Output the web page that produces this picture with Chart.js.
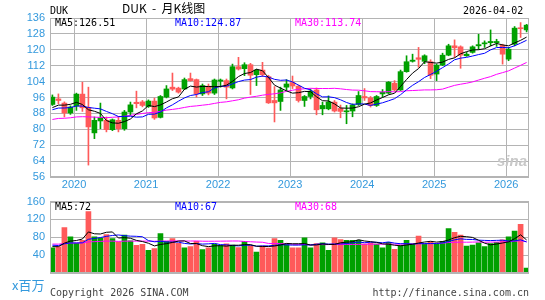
<!DOCTYPE html>
<html><head><meta charset="utf-8">
<script src="https://cdn.jsdelivr.net/npm/chart.js@4.4.1/dist/chart.umd.min.js"></script>
<style>
html,body{margin:0;padding:0;background:#fff;width:545px;height:300px;overflow:hidden;position:relative}
canvas{position:absolute;left:0}
#main{top:0}
#vol{top:190px}
.t{position:absolute;white-space:nowrap;font-family:"DejaVu Sans Mono","Liberation Mono",monospace;font-size:10px;line-height:12px;color:#000}
</style></head><body>
<canvas id="main" width="545" height="190" style="width:545px;height:190px"></canvas>
<canvas id="vol" width="545" height="110" style="width:545px;height:110px"></canvas>
<div class="t" style="left:50px;top:5px">DUK</div>
<div class="t" style="left:122px;top:1px;font-family:'Noto Sans CJK SC',sans-serif;font-size:12px;line-height:14px">DUK&nbsp;&nbsp;-&nbsp;&nbsp;月K线图</div>
<div class="t" style="left:463px;top:5px">2026-04-02</div>
<div class="t" style="left:55px;top:17px">MA5:126.51</div>
<div class="t" style="left:175px;top:17px;color:#0000ff">MA10:124.87</div>
<div class="t" style="left:295px;top:17px;color:#ff00ff">MA30:113.74</div>
<div class="t" style="left:55px;top:201px">MA5:72</div>
<div class="t" style="left:175px;top:201px;color:#0000ff">MA10:67</div>
<div class="t" style="left:295px;top:201px;color:#ff00ff">MA30:68</div>
<div class="t" style="left:12px;top:277px;font-family:'Noto Sans CJK SC',sans-serif;font-size:13px;line-height:16px;color:#3399dd">x百万</div>
<div class="t" style="left:50px;top:287px;color:#444">Copyright 2026 SINA.COM</div>
<div class="t" style="right:16px;top:287px;color:#444">http://finance.sina.com.cn</div>
<div class="t" style="left:497px;top:153px;font-family:'Liberation Sans',sans-serif;font-size:15px;font-weight:bold;font-style:italic;color:#c8c8c8;line-height:16px">sina</div>
<script>
// ---- data (monthly, 2019-09 .. 2026-04) ----
const months = ['2019-09','2019-10','2019-11','2019-12',
 '2020-01','2020-02','2020-03','2020-04','2020-05','2020-06','2020-07','2020-08','2020-09','2020-10','2020-11','2020-12',
 '2021-01','2021-02','2021-03','2021-04','2021-05','2021-06','2021-07','2021-08','2021-09','2021-10','2021-11','2021-12',
 '2022-01','2022-02','2022-03','2022-04','2022-05','2022-06','2022-07','2022-08','2022-09','2022-10','2022-11','2022-12',
 '2023-01','2023-02','2023-03','2023-04','2023-05','2023-06','2023-07','2023-08','2023-09','2023-10','2023-11','2023-12',
 '2024-01','2024-02','2024-03','2024-04','2024-05','2024-06','2024-07','2024-08','2024-09','2024-10','2024-11','2024-12',
 '2025-01','2025-02','2025-03','2025-04','2025-05','2025-06','2025-07','2025-08','2025-09','2025-10','2025-11','2025-12',
 '2026-01','2026-02','2026-03','2026-04'];
const opens = [92.5,95.3,93.2,88.2,91.7,97.7,91.0,78.2,84.2,84.5,
 79.8,84.5,80.3,88.7,93.6,93.8,91.5,94.2,86.0,96.2,
 101.2,100.7,100.3,105.5,105.0,97.8,101.7,98.2,104.2,104.5,
 100.8,111.5,110.5,112.5,107.5,109.8,106.5,94.5,94.0,101.2,
 103.5,101.7,94.5,96.5,99.8,90.3,90.3,93.7,90.5,88.8,
 89.2,92.5,96.5,95.8,92.0,97.8,98.2,103.2,99.8,109.0,
 114.2,116.0,114.2,114.0,107.8,112.3,117.3,122.0,121.5,117.0,
 118.7,122.0,123.0,123.6,123.6,122.3,115.3,122.8,131.0,130.0];
const highs = [97.3,97.8,93.8,91.8,98.2,103.7,101.2,86.2,93.2,86.2,
 85.2,86.5,89.5,93.7,99.2,94.5,94.8,95.7,97.0,102.0,
 108.3,101.2,105.8,108.3,105.3,102.8,102.8,105.3,105.3,105.3,
 112.8,116.2,113.5,113.2,110.2,113.7,107.2,101.5,101.2,105.0,
 106.8,102.2,97.0,100.3,100.8,93.7,96.8,94.5,92.2,92.0,
 92.8,99.0,100.5,96.5,97.0,100.0,104.0,104.5,109.8,117.0,
 117.8,121.2,117.5,115.0,112.8,118.3,122.8,125.0,122.0,118.7,
 122.0,127.8,124.5,130.0,125.3,122.8,121.2,131.7,133.7,132.8];
const lows = [92.0,92.8,86.2,87.5,89.5,89.0,62.0,75.3,80.3,78.7,
 79.3,78.7,79.5,87.0,90.8,91.3,91.0,85.0,85.7,95.8,
 99.5,98.2,100.0,104.2,96.2,97.0,97.3,97.5,101.2,95.3,
 100.3,109.8,107.0,97.5,102.0,106.5,93.0,83.7,89.5,99.5,
 100.5,93.7,91.5,95.3,87.3,87.3,89.8,88.7,85.8,82.8,
 86.3,92.0,94.5,91.2,91.5,96.2,97.8,99.2,99.5,108.7,
 113.8,111.2,113.0,105.5,104.5,112.0,117.0,116.2,110.7,116.7,
 118.3,120.3,121.2,122.0,121.7,112.8,114.5,122.0,126.2,129.0];
const closes = [96.2,94.5,88.2,91.2,97.7,90.8,81.2,84.5,85.8,79.8,
 84.8,80.3,88.7,92.3,92.9,92.0,94.2,85.7,96.5,100.3,
 100.2,98.7,105.0,104.5,97.8,102.0,98.2,104.8,104.8,101.2,
 111.5,110.3,112.5,107.2,109.8,107.5,93.3,93.3,99.8,102.8,
 101.8,94.5,96.5,99.2,89.8,92.0,93.7,89.2,89.0,89.2,
 92.3,97.0,95.8,92.0,96.5,98.7,103.7,99.8,109.0,114.0,
 114.8,115.2,117.0,107.2,112.3,117.3,122.0,121.0,117.3,117.8,
 121.5,122.6,123.5,124.2,124.2,117.8,120.3,130.9,130.6,132.4];
const volumes = [56.5,58.4,101.7,81,66.5,73.4,137.5,81,78.5,86,
 77,69.7,84.7,72,62,64,50.8,54.6,88.5,71,
 77.2,66.5,56.5,59,71,52.7,56.5,64.6,61.5,65.3,
 62.8,57,71,62,47,60.3,56,77,73.4,64.6,
 56.5,56.5,79,56.5,66,67.8,50.8,79,75,73,
 73,73,64.6,67.8,64.6,56.5,69,53.3,61.5,73.4,
 64.6,82.9,64.6,69.6,64.6,70.9,99.8,91,84.7,60.3,
 62.8,67.8,59,65.9,69,74.6,80.9,94.2,109.2,11.3];
// closes / volumes of the 29 months before 2019-09 (needed for the moving averages)
const priorCloses = [78.7,85.8,83.6,85.1,87.3,83.9,88.3,89.9,84.1,78.5,75.4,77.5,80.1,77.2,79.1,
 81.6,81.3,80.0,82.6,89.7,86.3,87.8,88.9,90.0,91.1,88.2,88.2,89.2,92.7];
const priorVolumes = [62,58,55,60,66,71,64,59,70,78,85,74,66,63,60,57,64,70,68,72,66,63,61,67,70,59,62,58,60];
const yearLabels = ['2020','2021','2022','2023','2024','2025','2026'];
const priceTicks = {min:56, max:136, step:8};
const volTicks = {min:0, max:160, step:40};

// ---- helpers ----
const GREEN = '#00a000', RED = '#ff5a5a', GRID = '#b4b4b4', LBL = '#3399dd';
const yearStartIdx = yearLabels.map(y => months.indexOf(y + '-01'));
function movingAvg(prior, series, n) {
  const all = prior.concat(series);
  return series.map((_, i) => {
    const end = prior.length + i + 1;
    const s = all.slice(Math.max(0, end - n), end);
    return s.reduce((a, b) => a + b, 0) / s.length;
  });
}
const colors = closes.map((c, i) => c >= opens[i] ? GREEN : RED);
const tickFont = {family: 'Liberation Sans', size: 11};
const xBase = () => ({
  type: 'linear', min: -0.4, max: months.length - 0.6, offset: false,
  afterBuildTicks: s => { s.ticks = yearStartIdx.map(v => ({value: v - 0.4})); },
  ticks: {callback: (v, i) => yearLabels[i], color: LBL, font: tickFont, padding: 1, maxRotation: 0, autoSkip: false},
  grid: {color: GRID, drawTicks: false, lineWidth: 1, offset: false},
  border: {display: false},
  afterFit: s => { s.height = 13; }
});
const yBase = (t, cb) => ({
  type: 'linear', min: t.min, max: t.max,
  ticks: {stepSize: t.step, color: LBL, font: tickFont, padding: 5, autoSkip: false, callback: cb},
  grid: {color: GRID, drawTicks: false}, border: {display: false},
  afterFit: s => { s.width = 50; }
});
const frame = {id: 'frame', afterDraw(c) {
  const a = c.chartArea, ctx = c.ctx;
  ctx.save(); ctx.strokeStyle = GRID; ctx.lineWidth = 1;
  ctx.strokeRect(Math.round(a.left) + 0.5, Math.round(a.top) + 0.5, Math.round(a.right - a.left) - 1, Math.round(a.bottom - a.top) - 1);
  ctx.restore();
}};
const lineDs = (data, color, order) => ({type: 'line', data: data.map((v, i) => ({x: i, y: v})), borderColor: color, borderWidth: 1, pointRadius: 0, tension: 0, order});

// ---- main K-line chart ----
const ma5 = movingAvg(priorCloses, closes, 5), ma10 = movingAvg(priorCloses, closes, 10), ma30 = movingAvg(priorCloses, closes, 30);
new Chart(document.getElementById('main'), {
  type: 'bar',
  data: {datasets: [
    lineDs(ma5, '#000000', 0), lineDs(ma10, '#0000ff', 1), lineDs(ma30, '#ff00ff', 2),
    {type: 'bar', data: months.map((m, i) => ({x: i, y: [opens[i], closes[i]]})), backgroundColor: colors, barThickness: 5, minBarLength: 1, grouped: false, order: 3, borderWidth: 0},
    {type: 'bar', data: months.map((m, i) => ({x: i, y: [lows[i], highs[i]]})), backgroundColor: colors, barThickness: 1, grouped: false, order: 4, borderWidth: 0}
  ]},
  options: {
    responsive: false, animation: false, events: [],
    layout: {padding: {top: 18, right: 16, left: 0, bottom: 0}},
    plugins: {legend: {display: false}, tooltip: {enabled: false}},
    scales: { x: xBase(), y: yBase(priceTicks) }
  },
  plugins: [frame]
});

// ---- volume chart ----
const vma5 = movingAvg(priorVolumes, volumes, 5), vma10 = movingAvg(priorVolumes, volumes, 10), vma30 = movingAvg(priorVolumes, volumes, 30);
const xv = xBase(); xv.display = false;
new Chart(document.getElementById('vol'), {
  type: 'bar',
  data: {datasets: [
    lineDs(vma5, '#000000', 0), lineDs(vma10, '#0000ff', 1), lineDs(vma30, '#ff00ff', 2),
    {type: 'bar', data: volumes.map((v, i) => ({x: i, y: v})), backgroundColor: colors, barThickness: 5, grouped: false, order: 3, borderWidth: 0}
  ]},
  options: {
    responsive: false, animation: false, events: [],
    layout: {padding: {top: 11, right: 16, left: 0, bottom: 14}},
    plugins: {legend: {display: false}, tooltip: {enabled: false}},
    scales: { x: xv, y: yBase(volTicks, v => v === 0 ? '' : v) }
  },
  plugins: [frame]
});
</script>
</body></html>
